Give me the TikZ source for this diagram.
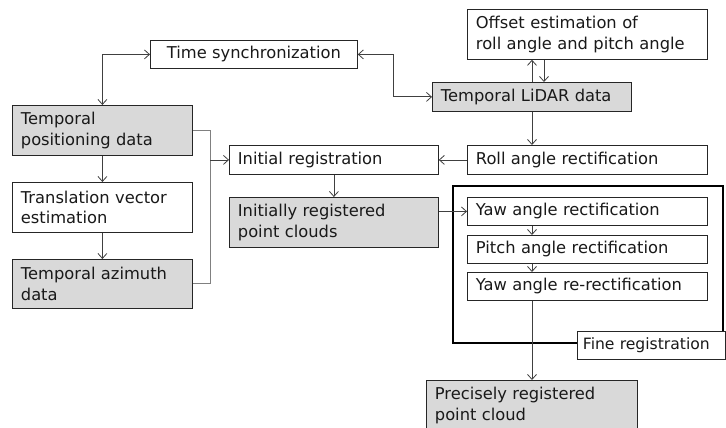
\documentclass[tikz,border=0pt]{standalone}
\usepackage{fontspec}
\setmainfont{DejaVu Sans}
\usetikzlibrary{arrows.meta}
\definecolor{boxgray}{HTML}{D9D9D9}
\definecolor{arrcol}{HTML}{404040}
\definecolor{brkcol}{HTML}{808080}
\tikzset{
  box/.style={draw=black!85, line width=0.8pt, anchor=north west, inner xsep=8.5pt, inner ysep=0pt,
    align=left, text=black!90, font=\fontsize{16.3}{20.5}\selectfont},
  graybox/.style={box, fill=boxgray},
  arr/.style={draw=arrcol, line width=0.8pt, -{Straight Barb[length=5pt,width=9pt]}},
  darr/.style={draw=arrcol, line width=0.8pt, {Straight Barb[length=5pt,width=9pt]}-{Straight Barb[length=5pt,width=9pt]}},
  brk/.style={draw=brkcol, line width=1pt},
  fineframe/.style={draw=black, line width=2.2pt},
}
\begin{document}
\begin{tikzpicture}[x=1pt,y=1pt]
\useasboundingbox (0,0) rectangle (726,-428);
\clip (0,0) rectangle (726,-428);
\fill[white] (0,0) rectangle (726,-428);

% left column
\node[box, align=center, text width=190pt, minimum height=28pt] (ts) at (150,-40) {Time synchronization};
\node[graybox, text width=163pt, minimum height=50pt] (tpd) at (12,-105) {Temporal\\positioning data};
\node[box, text width=163pt, minimum height=50pt] (tve) at (12,-182) {Translation vector\\estimation};
\node[graybox, text width=163pt, minimum height=49pt] (tad) at (12,-259) {Temporal azimuth\\data};

% middle
\node[box, text width=192pt, minimum height=29pt] (ir) at (229,-145) {Initial registration};
\node[graybox, text width=192pt, minimum height=50pt] (irpc) at (229,-197) {Initially registered\\point clouds};

% right
\node[box, text width=223pt, minimum height=50pt] (off) at (467,-9) {Offset estimation of\\roll angle and pitch angle};
\node[graybox, text width=182pt, minimum height=29pt] (lidar) at (432,-82) {Temporal LiDAR data};
\node[box, text width=223pt, minimum height=29pt] (roll) at (467,-145) {Roll angle rectification};

% fine registration group
\draw[fineframe] (453,-186) rectangle (723,-343);
\node[box, text width=223pt, minimum height=28pt] (yaw) at (467,-197) {Yaw angle rectification};
\node[box, text width=223pt, minimum height=28pt] (pitch) at (467,-235) {Pitch angle rectification};
\node[box, text width=223pt, minimum height=28pt] (yawre) at (467,-272) {Yaw angle re-rectification};
\node[box, fill=white, inner xsep=5.5pt, text width=137pt, minimum height=28pt, font=\fontsize{15.6}{19}\selectfont] (fine) at (577,-331) {Fine registration};

\node[graybox, text width=194pt, minimum height=50pt] (prec) at (426,-380) {Precisely registered\\point cloud};

% helper coordinates
\coordinate (bx) at (210,0);
\coordinate (vx) at (393,0);
\coordinate (cx) at (532,0);
\coordinate (dx) at (544,0);

% connectors
\draw[darr] (ts.west) -| (tpd.north);
\draw[arr] (tpd.south) -- (tve.north);
\draw[arr] (tve.south) -- (tad.north);
\draw[brk] (tpd.east) -| (bx |- tad.east) -- (tad.east);
\draw[arr] (bx |- ir.west) -- (ir.west);

\draw[darr] (ts.east) -| (vx |- lidar.west) -- (lidar.west);
\draw[arr] (cx |- lidar.north) -- (cx |- off.south);
\draw[arr] (dx |- off.south) -- (dx |- lidar.north);
\draw[arr] (cx |- lidar.south) -- (cx |- roll.north);
\draw[arr] (roll.west) -- (ir.east);
\draw[arr] (ir.south) -- (irpc.north);
\draw[arr] (irpc.east |- yaw.west) -- (yaw.west);
\draw[arr] (cx |- yaw.south) -- (cx |- pitch.north);
\draw[arr] (cx |- pitch.south) -- (cx |- yawre.north);
\draw[arr] (cx |- yawre.south) -- (cx |- prec.north);
\end{tikzpicture}
\end{document}
